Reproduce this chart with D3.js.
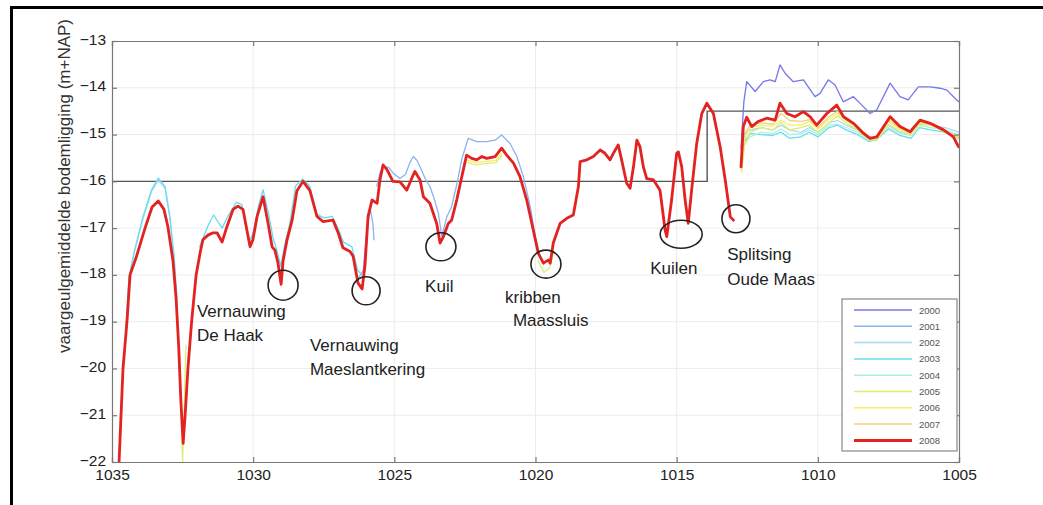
<!DOCTYPE html>
<html><head><meta charset="utf-8">
<script src="https://cdn.jsdelivr.net/npm/d3@7"></script>
<style>
html,body{margin:0;padding:0;background:#fff;}
svg{display:block;font-family:"Liberation Sans",Arial,sans-serif;}
</style></head>
<body><svg id="c" width="1043" height="505"></svg>
<script>
// ---------- data ----------
const kmTicks = [1035,1030,1025,1020,1015,1010,1005];
const depthTicks = [-22,-21,-20,-19,-18,-17,-16,-15,-14,-13];
const years = ["2000","2001","2002","2003","2004","2005","2006","2007","2008"];
const yLabel = "vaargeulgemiddelde bodemligging (m+NAP)";

const s2000 = [[1012.72,-15.3],[1012.62,-14.3],[1012.52,-13.87],[1012.22,-14.08],[1011.93,-13.87],[1011.69,-13.83],[1011.51,-13.87],[1011.34,-13.51],[1011.16,-13.69],[1010.87,-13.87],[1010.51,-13.83],[1010.10,-14.19],[1009.92,-14.12],[1009.63,-13.83],[1009.39,-13.94],[1009.10,-14.30],[1008.74,-14.19],[1008.44,-14.37],[1008.15,-14.55],[1007.91,-14.47],[1007.44,-13.90],[1007.09,-14.19],[1006.80,-14.26],[1006.44,-13.98],[1006.02,-13.98],[1005.67,-14.01],[1005.43,-14.05],[1005.08,-14.26],[1005.0,-14.3]];

const s2001 = [[1026.3,-18.1],[1026.1,-17.9],[1025.97,-17.0],[1025.85,-16.6],[1025.76,-16.9],[1025.72,-17.25],null,[1025.62,-16.1],[1025.5,-15.8],[1025.4,-15.68],[1025.2,-15.7],[1025.03,-15.83],[1024.8,-15.94],[1024.6,-15.85],[1024.45,-15.6],[1024.33,-15.47],[1024.2,-15.55],[1024.09,-15.69],[1023.9,-15.95],[1023.74,-16.11],[1023.6,-16.35],[1023.44,-16.68],[1023.32,-17.18],[1023.14,-16.76],[1022.97,-16.54],[1022.8,-16.1],[1022.6,-15.5],[1022.38,-15.08],[1022.08,-15.15],[1021.73,-15.15],[1021.43,-15.12],[1021.2,-15.01],[1020.9,-15.19],[1020.66,-15.47],[1020.43,-15.9],[1020.2,-16.5],[1020.0,-17.2],[1019.85,-17.6]];

const s2002 = [[1034.55,-19.7],[1034.4,-18.1],[1034.2,-17.5],[1033.9,-16.8],[1033.6,-16.22],[1033.36,-15.98],[1033.12,-16.15],[1032.95,-16.8],[1032.8,-17.7],[1032.7,-18.6],null,[1012.7,-15.5],[1012.6,-15.0],[1012.4,-14.9],[1012.0,-14.85],[1011.6,-14.9],[1011.3,-14.8],[1011.0,-14.9],[1010.6,-14.95],[1010.3,-14.85],[1010.0,-14.95],[1009.6,-14.75],[1009.3,-14.7],[1009.0,-14.8],[1008.6,-14.9],[1008.2,-15.1],[1007.9,-15.05],[1007.5,-14.8],[1007.1,-14.95],[1006.7,-15.0],[1006.4,-14.75],[1006.0,-14.8],[1005.5,-14.85],[1005.0,-14.95]];

const s2003 = [[1034.62,-20.0],[1034.55,-19.6],[1034.4,-18.04],[1034.2,-17.47],[1033.9,-16.75],[1033.6,-16.18],[1033.36,-15.93],[1033.12,-16.11],[1032.95,-16.75],[1032.8,-17.6],[1032.7,-18.5],null,[1031.9,-17.4],[1031.6,-16.95],[1031.4,-16.72],[1031.1,-17.0],[1030.9,-16.75],[1030.6,-16.45],[1030.4,-16.5],[1030.15,-17.3],[1030.0,-17.1],[1029.8,-16.5],[1029.65,-16.18],[1029.45,-16.7],[1029.3,-17.2],[1029.15,-17.5],[1029.02,-17.82],[1028.9,-17.4],[1028.7,-16.9],[1028.5,-16.1],[1028.25,-15.95],[1028.0,-16.1],[1027.75,-16.7],[1027.5,-16.78],[1027.2,-16.75],[1027.0,-17.0],[1026.8,-17.3],[1026.5,-17.4],[1026.3,-17.9],[1026.15,-18.0],null,[1012.7,-15.6],[1012.6,-15.15],[1012.4,-14.98],[1012.0,-15.0],[1011.6,-15.02],[1011.3,-14.95],[1011.0,-15.08],[1010.6,-15.05],[1010.3,-14.95],[1010.0,-15.05],[1009.6,-14.85],[1009.3,-14.8],[1009.0,-14.9],[1008.6,-15.0],[1008.2,-15.15],[1007.9,-15.1],[1007.5,-14.88],[1007.1,-15.02],[1006.7,-15.08],[1006.4,-14.85],[1006.0,-14.9],[1005.5,-14.95],[1005.0,-15.05]];

const s2004 = [[1012.7,-15.7],[1012.6,-15.2],[1012.4,-15.05],[1012.0,-14.95],[1011.6,-14.98],[1011.3,-14.88],[1011.0,-15.0],[1010.6,-14.98],[1010.3,-14.9],[1010.0,-15.0],[1009.6,-14.8],[1009.3,-14.78],[1009.0,-14.85],[1008.6,-14.95],[1008.2,-15.12],[1007.9,-15.08],[1007.5,-14.85],[1007.1,-14.98],[1006.7,-15.02],[1006.4,-14.8],[1006.0,-14.85],[1005.5,-14.9],[1005.0,-15.0]];

const s2005 = [[1032.62,-19.5],[1032.5,-22.0],[1032.38,-19.5],null,[1022.4,-15.6],[1022.1,-15.65],[1021.8,-15.62],[1021.4,-15.6],[1021.2,-15.45],null,[1019.9,-17.7],[1019.7,-17.95],[1019.5,-17.85],[1019.35,-17.5],null,[1012.7,-15.8],[1012.6,-15.25],[1012.4,-14.95],[1012.0,-14.85],[1011.6,-14.9],[1011.3,-14.75],[1011.0,-14.9],[1010.6,-14.85],[1010.3,-14.8],[1010.0,-14.95],[1009.6,-14.75],[1009.3,-14.6],[1009.0,-14.75],[1008.6,-14.9],[1008.2,-15.12],[1007.9,-15.12],[1007.5,-14.78],[1007.1,-14.92],[1006.7,-15.0],[1006.4,-14.78],[1006.0,-14.8],[1005.5,-14.95],[1005.0,-15.1]];

const s2006 = [[1022.4,-15.55],[1022.1,-15.6],[1021.8,-15.58],[1021.4,-15.55],[1021.2,-15.4],null,[1012.7,-15.75],[1012.6,-15.1],[1012.4,-14.85],[1012.0,-14.8],[1011.6,-14.82],[1011.3,-14.7],[1011.0,-14.8],[1010.6,-14.8],[1010.3,-14.72],[1010.0,-14.88],[1009.6,-14.68],[1009.3,-14.55],[1009.0,-14.7],[1008.6,-14.85],[1008.2,-15.08],[1007.9,-15.08],[1007.5,-14.72],[1007.1,-14.88],[1006.7,-14.98],[1006.4,-14.75],[1006.0,-14.8],[1005.5,-14.92],[1005.0,-15.05]];

const s2007 = [[1012.7,-15.7],[1012.6,-15.0],[1012.4,-14.8],[1012.0,-14.75],[1011.6,-14.78],[1011.3,-14.55],[1011.0,-14.7],[1010.6,-14.72],[1010.3,-14.68],[1010.0,-14.85],[1009.6,-14.62],[1009.3,-14.5],[1009.0,-14.68],[1008.6,-14.82],[1008.2,-15.05],[1007.9,-15.05],[1007.5,-14.68],[1007.1,-14.86],[1006.7,-14.96],[1006.4,-14.72],[1006.0,-14.78],[1005.5,-14.9],[1005.0,-15.08]];

const s2008 = [[1034.75,-22.0],[1034.61,-20.0],[1034.47,-19.0],[1034.36,-18.0],[1034.13,-17.6],[1033.83,-17.0],[1033.58,-16.55],[1033.36,-16.42],[1033.16,-16.6],[1033.02,-16.97],[1032.84,-17.7],[1032.73,-18.5],[1032.64,-19.5],[1032.56,-20.7],[1032.48,-21.6],[1032.41,-21.0],[1032.31,-20.0],[1032.18,-19.0],[1032.02,-18.0],[1031.88,-17.53],[1031.78,-17.25],[1031.60,-17.15],[1031.42,-17.1],[1031.28,-17.1],[1031.10,-17.3],[1030.93,-16.97],[1030.71,-16.6],[1030.54,-16.53],[1030.36,-16.6],[1030.11,-17.4],[1030.01,-17.25],[1029.86,-16.75],[1029.65,-16.33],[1029.47,-16.9],[1029.33,-17.4],[1029.23,-17.47],[1029.12,-17.75],[1029.01,-18.2],[1028.94,-17.7],[1028.80,-17.25],[1028.62,-16.83],[1028.45,-16.2],[1028.23,-16.0],[1027.99,-16.2],[1027.74,-16.75],[1027.53,-16.86],[1027.17,-16.83],[1026.99,-17.1],[1026.82,-17.42],[1026.57,-17.5],[1026.46,-17.6],[1026.29,-18.17],[1026.14,-18.3],[1026.04,-17.8],[1025.93,-16.75],[1025.79,-16.4],[1025.61,-16.47],[1025.51,-15.97],[1025.40,-15.65],[1025.26,-15.75],[1025.05,-16.0],[1024.80,-16.01],[1024.56,-16.19],[1024.33,-15.86],[1024.27,-15.79],[1024.09,-15.97],[1023.97,-16.33],[1023.74,-16.47],[1023.50,-16.90],[1023.38,-17.32],[1023.26,-17.18],[1023.09,-16.90],[1022.97,-16.83],[1022.79,-16.40],[1022.61,-15.90],[1022.44,-15.44],[1022.26,-15.51],[1022.08,-15.54],[1021.90,-15.47],[1021.73,-15.51],[1021.43,-15.47],[1021.20,-15.29],[1021.02,-15.44],[1020.78,-15.61],[1020.55,-15.90],[1020.31,-16.40],[1020.08,-17.04],[1019.90,-17.54],[1019.72,-17.75],[1019.54,-17.68],[1019.48,-17.75],[1019.37,-17.32],[1019.13,-16.90],[1018.89,-16.79],[1018.66,-16.72],[1018.48,-16.11],[1018.42,-15.58],[1018.18,-15.54],[1017.95,-15.47],[1017.71,-15.33],[1017.54,-15.40],[1017.36,-15.54],[1017.24,-15.40],[1017.07,-15.22],[1016.95,-15.54],[1016.77,-16.04],[1016.65,-16.15],[1016.53,-15.69],[1016.41,-15.12],[1016.30,-15.26],[1016.18,-15.69],[1016.06,-15.94],[1015.82,-15.97],[1015.59,-16.19],[1015.41,-17.04],[1015.35,-17.18],[1015.18,-16.40],[1015.00,-15.40],[1014.94,-15.37],[1014.82,-15.69],[1014.70,-16.40],[1014.59,-16.90],[1014.47,-16.19],[1014.29,-15.19],[1014.11,-14.55],[1013.93,-14.33],[1013.70,-14.55],[1013.46,-15.26],[1013.28,-15.97],[1013.10,-16.76],[1012.99,-16.83],null,[1012.72,-15.69],[1012.64,-14.83],[1012.52,-14.63],[1012.34,-14.83],[1012.11,-14.72],[1011.81,-14.65],[1011.51,-14.69],[1011.34,-14.33],[1011.10,-14.55],[1010.81,-14.62],[1010.51,-14.51],[1010.27,-14.62],[1010.04,-14.80],[1009.68,-14.55],[1009.33,-14.37],[1009.09,-14.62],[1008.74,-14.76],[1008.39,-14.97],[1008.15,-15.08],[1007.91,-15.05],[1007.44,-14.62],[1007.09,-14.83],[1006.73,-14.94],[1006.38,-14.69],[1006.02,-14.76],[1005.55,-14.90],[1005.20,-15.05],[1005.02,-15.26]];

const seriesData = [s2000,s2001,s2002,s2003,s2004,s2005,s2006,s2007,s2008];

// reference (target) bed level
const refLine = [[1035,-16],[1013.92,-16],[1013.92,-14.5],[1005,-14.5]];

// annotation circles and labels
const marks = [
  {km:1028.94, v:-18.22, rx:15, ry:15},
  {km:1026.00, v:-18.34, rx:14, ry:14},
  {km:1023.35, v:-17.40, rx:15, ry:14},
  {km:1019.63, v:-17.77, rx:15, ry:14},
  {km:1014.84, v:-17.13, rx:21, ry:14},
  {km:1012.90, v:-16.80, rx:14, ry:14}
];
const labels = [
  {km:1031.99, v:-18.90, text:"Vernauwing"},
  {km:1031.99, v:-19.41, text:"De Haak"},
  {km:1027.99, v:-19.63, text:"Vernauwing"},
  {km:1027.99, v:-20.14, text:"Maeslantkering"},
  {km:1023.91, v:-18.37, text:"Kuil"},
  {km:1021.08, v:-18.60, text:"kribben"},
  {km:1020.80, v:-19.10, text:"Maassluis"},
  {km:1015.94, v:-17.98, text:"Kuilen"},
  {km:1013.21, v:-17.68, text:"Splitsing"},
  {km:1013.21, v:-18.22, text:"Oude Maas"}
];

// ---------- styles ----------
const colors = ["#7676ea","#8db2f2","#a8d8f2","#68dcee","#a8f0e4","#d8f070","#f4ee6a","#f2d27a","#e32222"];
const widths = [1.3,1.3,1.2,1.3,1.2,1.3,1.3,1.3,2.8];

// ---------- drawing ----------
const svg = d3.select("#c");
const L=112, R=959, T=41, B=462;
const x = d3.scaleLinear().domain([1035,1005]).range([L,R]);
const y = d3.scaleLinear().domain([-22,-13]).range([B,T]);

// outer frame
svg.append("rect").attr("x",11.5).attr("y",7.5).attr("width",1040).attr("height",520)
  .attr("fill","none").attr("stroke","#000").attr("stroke-width",3);

// grid
const g = svg.append("g");
g.selectAll(".gx").data(kmTicks.slice(1,-1)).join("line")
  .attr("x1",d=>x(d)).attr("x2",d=>x(d)).attr("y1",T).attr("y2",B)
  .attr("stroke","#ececec").attr("stroke-width",1);
g.selectAll(".gy").data(depthTicks.slice(1,-1)).join("line")
  .attr("x1",L).attr("x2",R).attr("y1",d=>y(d)).attr("y2",d=>y(d))
  .attr("stroke","#ececec").attr("stroke-width",1);

svg.append("defs").append("clipPath").attr("id","clip")
  .append("rect").attr("x",L).attr("y",T).attr("width",R-L).attr("height",B-T);

const plot = svg.append("g").attr("clip-path","url(#clip)");

const line = d3.line().defined(d=>d!==null).x(d=>x(d[0])).y(d=>y(d[1]));

// reference line
plot.append("path").attr("d",line(refLine)).attr("fill","none")
  .attr("stroke","#555").attr("stroke-width",1.4);

seriesData.forEach((s,i)=>{
  plot.append("path").attr("d",line(s)).attr("fill","none")
    .attr("stroke",colors[i]).attr("stroke-width",widths[i])
    .attr("stroke-linejoin","round").attr("stroke-linecap","round");
});

// axes
const tickCol="#777", labCol="#222";
function styleAxis(sel){
  sel.select(".domain").attr("stroke",tickCol).attr("stroke-width",1.2);
  sel.selectAll(".tick line").attr("stroke",tickCol).attr("stroke-width",1.2);
  sel.selectAll(".tick text").attr("fill",labCol).style("font-size","15.5px")
    .style("font-family","'Liberation Sans',Arial,sans-serif");
}
svg.append("g").attr("transform",`translate(0,${B})`)
  .call(d3.axisBottom(x).tickValues(kmTicks).tickFormat(d3.format("d")).tickSize(-5).tickPadding(7))
  .call(styleAxis);
svg.append("g").attr("transform",`translate(0,${T})`)
  .call(d3.axisTop(x).tickValues(kmTicks).tickFormat("").tickSize(-5))
  .call(styleAxis);
svg.append("g").attr("transform",`translate(${L},0)`)
  .call(d3.axisLeft(y).tickValues(depthTicks).tickFormat(d3.format("d")).tickSize(-5).tickPadding(6))
  .call(styleAxis)
  .selectAll(".tick text").attr("dy","0.2em");
svg.append("g").attr("transform",`translate(${R},0)`)
  .call(d3.axisRight(y).tickValues(depthTicks).tickFormat("").tickSize(-5))
  .call(styleAxis);

// y label
svg.append("text").attr("transform",`translate(70,186) rotate(-90)`)
  .attr("text-anchor","middle").attr("fill","#333").style("font-size","17px")
  .text(yLabel);

// annotations
svg.selectAll(".mk").data(marks).join("ellipse")
  .attr("cx",d=>x(d.km)).attr("cy",d=>y(d.v)).attr("rx",d=>d.rx).attr("ry",d=>d.ry)
  .attr("fill","none").attr("stroke","#222").attr("stroke-width",1.6);
svg.selectAll(".lb").data(labels).join("text")
  .attr("x",d=>x(d.km)).attr("y",d=>y(d.v)).attr("fill","#222")
  .style("font-size","17px").text(d=>d.text);

// legend
const lg = svg.append("g");
lg.append("rect").attr("x",842).attr("y",299).attr("width",115).attr("height",152)
  .attr("fill","#fff").attr("stroke","#888").attr("stroke-width",1.2);
years.forEach((yr,i)=>{
  const yy = 310 + i*16.3;
  lg.append("line").attr("x1",854).attr("x2",912).attr("y1",yy).attr("y2",yy)
    .attr("stroke",colors[i]).attr("stroke-width",i===8?3:1.5);
  lg.append("text").attr("x",919).attr("y",yy+3.5).attr("fill","#555")
    .style("font-size","9.5px").text(yr);
});
</script></body></html>
